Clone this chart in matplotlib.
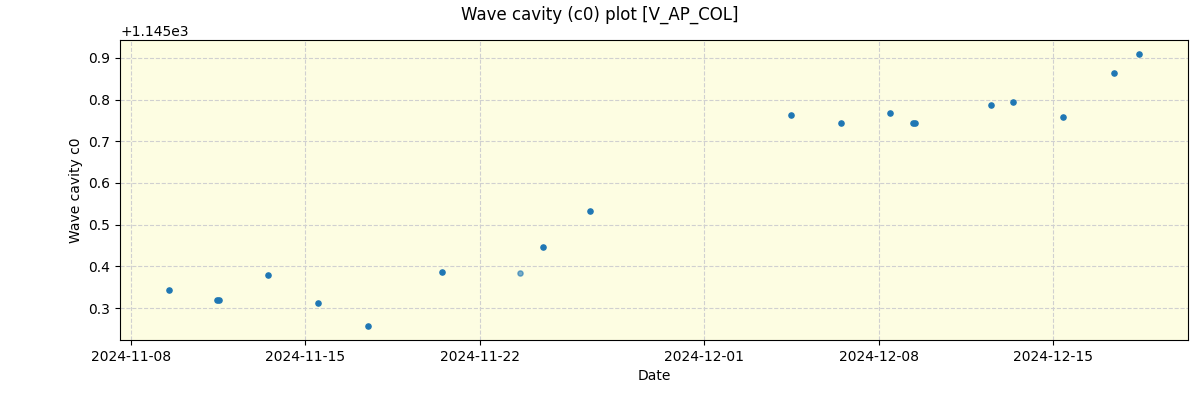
import matplotlib
matplotlib.use("Agg")
import matplotlib.pyplot as plt
import pandas as pd

# observation times and wave cavity values (c0)
dates = pd.to_datetime([
    "2024-11-09 12:30", "2024-11-11 11:00", "2024-11-11 12:45",
    "2024-11-13 12:00", "2024-11-15 12:00", "2024-11-17 12:00",
    "2024-11-20 11:15", "2024-11-23 14:30", "2024-11-24 12:45",
    "2024-11-26 10:00", "2024-12-04 11:15", "2024-12-06 11:30",
    "2024-12-08 10:50", "2024-12-09 08:50", "2024-12-09 10:50",
    "2024-12-12 12:00", "2024-12-13 09:10", "2024-12-15 09:10",
    "2024-12-17 10:20", "2024-12-18 10:20",
])
c0 = [
    1145.343, 1145.319, 1145.319,
    1145.379, 1145.312, 1145.257,
    1145.386, 1145.384, 1145.446,
    1145.533, 1145.763, 1145.744,
    1145.768, 1145.744, 1145.744,
    1145.787, 1145.794, 1145.758,
    1145.864, 1145.910,
]
faint = [False] * len(c0)
faint[7] = True

fig = plt.figure(figsize=(12, 4), dpi=100)
ax = fig.add_axes([0.1, 0.15, 0.89, 0.75])
ax.set_facecolor("#fdfde2")

solid_d = [d for d, f in zip(dates, faint) if not f]
solid_v = [v for v, f in zip(c0, faint) if not f]
faint_d = [d for d, f in zip(dates, faint) if f]
faint_v = [v for v, f in zip(c0, faint) if f]
ax.scatter(solid_d, solid_v, s=14, color="#1f77b4", zorder=3)
ax.scatter(faint_d, faint_v, s=14, color="#1f77b4", alpha=0.6, zorder=3)

ax.set_xlim(pd.Timestamp("2024-11-07 13:30"), pd.Timestamp("2024-12-20 09:30"))
ax.set_ylim(1145.2233, 1145.943)
ticks = pd.to_datetime(["2024-11-08", "2024-11-15", "2024-11-22",
                        "2024-12-01", "2024-12-08", "2024-12-15"])
ax.set_xticks(ticks)
ax.set_xticklabels([t.strftime("%Y-%m-%d") for t in ticks])
ax.grid(True, linestyle="--", color="#d0d0d0", linewidth=0.8)
ax.set_axisbelow(True)

ax.set_xlabel("Date")
ax.set_ylabel("Wave cavity c0")
fig.suptitle("Wave cavity (c0) plot [V_AP_COL]", fontsize=12, y=0.985)

fig.savefig("out.png", dpi=100)
